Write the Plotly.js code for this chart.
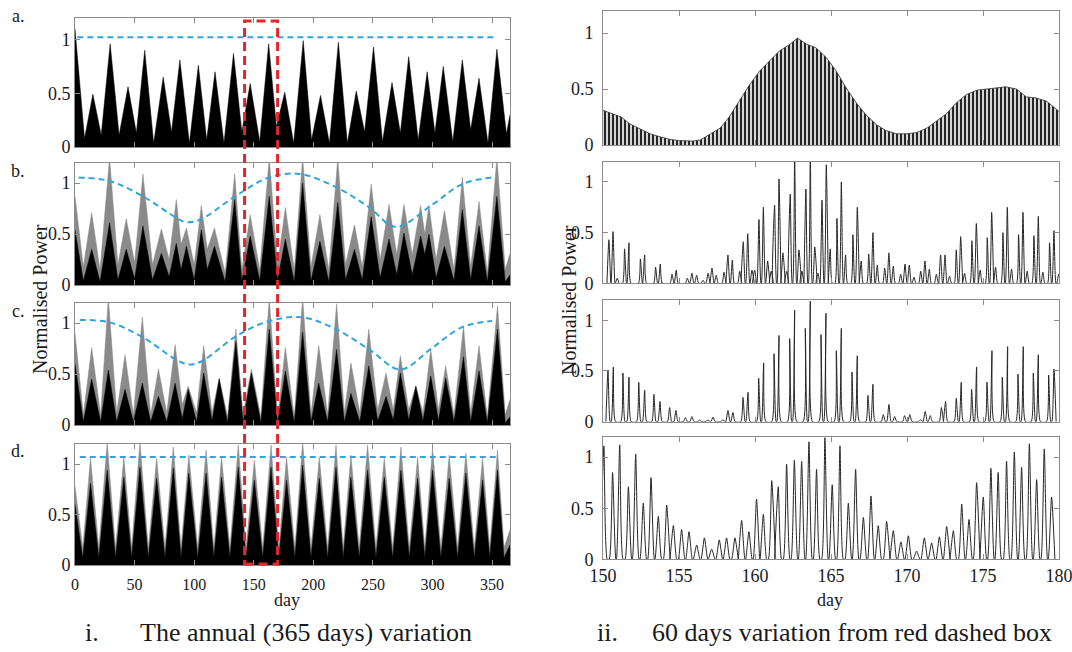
<!DOCTYPE html>
<html><head><meta charset="utf-8">
<script src="https://cdn.plot.ly/plotly-3.0.1.min.js"></script>
<style>html,body{margin:0;padding:0;background:#fff}#chart{width:1072px;height:652px}</style>
</head><body><div id="chart"></div>
<script>
// ---------- DATA ----------
// Left column, annual variation (day 0-365): peaks and troughs interleaved
const aDays = [0,8,15,22,29.5,37,44.5,51.5,58.5,66,74,81,88,96,103.5,110.5,117.5,125,133,140,147,155,162.5,169,176,183.5,191.5,198.5,206,213.5,221,228.5,236,243,250.5,258,266,273,280,288,295.5,302,309,317,325,332,339,346.5,354,362,365];
const aPower = [1.10,0.08,0.49,0.11,0.96,0.11,0.56,0.13,0.90,0.035,0.65,0.14,0.81,0.035,0.76,0.065,0.70,0.035,0.87,0.14,0.59,0.05,0.96,0.19,0.51,0.035,0.99,0.065,0.48,0.035,0.975,0.035,0.52,0.14,0.93,0.05,0.60,0.13,0.84,0.065,0.70,0.13,0.75,0.05,0.81,0.16,0.64,0.035,0.91,0.12,0.30];

const bDays = [0,7,14,21,29,36,43,50,57,65,72.5,79,85,89,93.5,100,106,111,117,126,134,140,147,155,163,170,176.5,184,191,198,205.5,213,220.5,227,234.5,241,248.5,256,263.5,270,276,283,290,293.5,297,303,310,318,325,332,339,346,354,361,365];
const bGrey = [0.87,0.18,0.71,0.15,1.25,0.2,0.65,0.22,1.09,0.2,0.55,0.25,0.84,0.4,0.56,0.2,0.78,0.35,0.56,0.12,1.09,0.15,0.69,0.15,1.25,0.2,0.76,0.15,1.25,0.18,0.69,0.15,1.25,0.2,0.59,0.18,0.99,0.25,0.79,0.3,0.79,0.3,0.78,0.5,0.78,0.25,0.73,0.15,1.06,0.18,0.82,0.12,1.25,0.15,0.31];
const bBlack = [0.54,0.04,0.35,0.03,0.61,0.05,0.35,0.06,0.58,0.05,0.31,0.08,0.41,0.15,0.38,0.05,0.54,0.15,0.38,0.03,0.84,0.04,0.48,0.04,0.87,0.05,0.45,0.03,1.0,0.04,0.43,0.03,0.81,0.05,0.35,0.05,0.67,0.07,0.45,0.1,0.51,0.1,0.48,0.3,0.5,0.07,0.38,0.04,0.74,0.05,0.58,0.03,0.87,0.03,0.1];

const cDays = [0,7,14,21.5,28,35,42,49,56.5,63.5,70,77,84,90,95,102,108,115,121,128,135,141,148,156,163,170,176.5,184,191,198,204.5,212,219.5,226,231.5,239,246.5,254,261,267,273,280,286,292,298.5,305,311,318,326,332,339,346,354.5,361,365];
const cGrey = [0.9,0.1,0.76,0.1,1.25,0.12,0.69,0.1,1.06,0.1,0.55,0.12,0.79,0.2,0.38,0.12,0.78,0.12,0.46,0.08,0.94,0.1,0.55,0.08,1.25,0.08,0.76,0.08,1.25,0.1,0.78,0.1,1.19,0.12,0.61,0.12,0.94,0.15,0.51,0.15,0.68,0.15,0.38,0.12,0.74,0.15,0.58,0.1,0.97,0.12,0.78,0.08,1.17,0.1,0.25];
const cBlack = [0.6,0.03,0.45,0.03,0.54,0.03,0.35,0.03,0.41,0.03,0.28,0.03,0.41,0.06,0.35,0.03,0.51,0.04,0.45,0.02,0.82,0.03,0.51,0.02,0.94,0.02,0.53,0.02,0.91,0.03,0.41,0.03,0.74,0.03,0.31,0.03,0.58,0.04,0.28,0.05,0.51,0.05,0.38,0.04,0.48,0.04,0.46,0.03,0.67,0.03,0.53,0.02,0.94,0.02,0.08];

const dDays = [0,6.5,13,20,27,34,41,47.5,54.5,61.5,68.5,75.5,82.5,89,95.5,103,110,116.5,123,130,137,143.5,150.5,157.5,164.5,171,177.5,184.5,191,198,205,212,219,225,231.5,238.5,245.5,252.5,259.5,266.5,273.5,280.5,287.5,293.5,300,307,314,321,328,335,342,348,354.5,360,365];
const dGrey = [0.78,0.17,1.06,0.17,1.22,0.17,1.07,0.17,1.22,0.17,1.06,0.17,1.17,0.17,1.09,0.17,1.14,0.17,1.07,0.17,1.19,0.17,1.04,0.17,1.19,0.17,1.07,0.17,1.22,0.17,1.07,0.17,1.19,0.17,1.09,0.17,1.19,0.17,1.06,0.17,1.17,0.17,1.07,0.17,1.16,0.17,1.09,0.17,1.11,0.17,1.06,0.17,1.14,0.17,0.35];
const dBlack = [0.6,0.07,0.81,0.07,0.94,0.07,0.87,0.07,0.97,0.07,0.86,0.07,0.96,0.07,0.91,0.07,0.91,0.07,0.87,0.07,0.97,0.07,0.84,0.07,0.97,0.07,0.84,0.07,0.99,0.07,0.86,0.07,0.97,0.07,0.87,0.07,0.94,0.07,0.87,0.07,0.94,0.07,0.86,0.07,0.94,0.07,0.86,0.07,0.91,0.07,0.84,0.07,0.94,0.07,0.2];

// Blue dashed reference curves
const blueADays = [2,352], blueA = [1.02,1.02];
const blueBDays = [3,29,57,85,93,105,133,163,188,219,247,269,300,325,350];
const blueB = [1.056,1.02,0.87,0.66,0.617,0.64,0.86,1.056,1.09,0.96,0.76,0.57,0.79,0.99,1.056];
const blueCDays = [4,29,57,85,96,107,135,163,191,219,247,273,300,325,350];
const blueC = [1.03,1.007,0.86,0.64,0.594,0.63,0.87,1.02,1.056,0.94,0.74,0.545,0.76,0.96,1.02];
const blueDDays = [4,353], blueD = [1.07,1.07];

// Red dashed box (days)
const boxDays = [142.3,170];

// Right column (day 150-180)
const env1Days = [150,150.65,151.2,151.75,152.4,153.1,153.7,154.4,155.0,155.9,156.4,157.0,157.7,158.3,159.0,159.65,160.3,161.0,161.6,162.3,162.8,163.4,164.0,164.7,165.35,166.0,166.7,167.3,168.0,168.6,169.3,169.95,170.6,171.3,171.9,172.6,173.2,173.9,174.6,175.2,175.9,176.5,177.2,177.85,178.5,179.2,180];
const env1 = [0.31,0.28,0.25,0.19,0.15,0.10,0.075,0.05,0.04,0.035,0.045,0.09,0.15,0.25,0.40,0.54,0.66,0.76,0.84,0.90,0.955,0.90,0.87,0.78,0.66,0.51,0.37,0.27,0.18,0.13,0.10,0.10,0.11,0.15,0.21,0.28,0.37,0.45,0.49,0.50,0.51,0.52,0.50,0.43,0.42,0.39,0.30];

const r2Days = [150.39,150.66,150.94,151.42,151.71,152.46,152.74,153.46,153.77,154.54,154.82,155.55,155.85,156.16,156.58,156.91,157.17,157.45,157.96,158.22,158.51,158.99,159.23,159.52,159.8,159.98,160.26,160.55,160.83,161.07,161.29,161.58,161.84,162.08,162.32,162.61,162.89,163.09,163.35,163.64,163.93,164.14,164.41,164.69,164.95,165.39,165.68,165.96,166.44,166.73,166.99,167.48,167.76,168.05,168.53,168.81,169.1,169.58,169.87,170.15,170.46,170.9,171.18,171.47,171.93,172.21,172.5,172.8,173.24,173.53,173.79,174.27,174.56,174.82,175.28,175.57,175.83,176.31,176.6,176.88,177.34,177.63,177.91,178.35,178.64,178.94,179.38,179.67,179.98];
const r2Peaks = [0.43,0.51,0.05,0.34,0.40,0.24,0.28,0.16,0.19,0.09,0.13,0.05,0.10,0.08,0.03,0.10,0.15,0.08,0.11,0.28,0.23,0.12,0.41,0.49,0.13,0.13,0.63,0.75,0.22,0.12,0.77,1.03,0.30,0.12,0.88,1.25,0.33,0.12,0.93,1.25,0.36,0.10,0.82,1.17,0.34,0.64,1.0,0.28,0.48,0.75,0.22,0.29,0.50,0.18,0.15,0.30,0.17,0.09,0.19,0.18,0.06,0.12,0.22,0.14,0.09,0.28,0.28,0.07,0.33,0.46,0.10,0.42,0.59,0.13,0.45,0.70,0.16,0.50,0.75,0.14,0.48,0.70,0.12,0.47,0.66,0.11,0.40,0.52,0.09];

const r3Days = [150.33,150.68,151.31,151.71,152.35,152.74,153.35,153.75,154.38,154.8,155.42,155.85,156.36,156.91,157.24,157.89,158.22,158.55,159.21,159.54,160.24,160.57,161.25,161.58,162.28,162.61,163.31,163.64,164.34,164.67,165.35,165.68,166.38,166.73,167.43,167.76,168.44,168.81,169.19,169.84,170.19,170.9,171.2,171.53,172.26,172.54,173.24,173.57,174.25,174.58,175.26,175.59,176.27,176.62,177.3,177.65,178.31,178.64,179.32,179.67];
const r3Peaks = [0.51,0.54,0.48,0.44,0.39,0.31,0.27,0.20,0.14,0.11,0.04,0.05,0.016,0.02,0.045,0.02,0.11,0.09,0.24,0.29,0.43,0.58,0.67,0.85,0.82,1.10,0.92,1.19,0.86,1.07,0.70,0.92,0.49,0.65,0.26,0.37,0.07,0.17,0.05,0.06,0.07,0.02,0.10,0.06,0.14,0.20,0.23,0.39,0.32,0.54,0.39,0.70,0.44,0.74,0.47,0.74,0.48,0.66,0.46,0.52];

const r4Days = [150.06,150.63,151.1,151.67,152.15,152.65,153.16,153.64,154.19,154.63,155.17,155.66,156.16,156.67,157.15,157.65,158.13,158.68,159.12,159.6,160.1,160.55,161.1,161.53,162.08,162.59,163.07,163.55,164.05,164.6,165.08,165.59,166.14,166.62,167.13,167.63,168.11,168.66,169.1,169.6,170.09,170.63,171.14,171.62,172.13,172.61,173.05,173.6,174.08,174.58,175.02,175.52,176.0,176.55,177.06,177.54,178.05,178.53,179.03,179.51];
const r4Peaks = [1.11,0.85,1.12,0.71,1.03,0.55,0.80,0.42,0.53,0.33,0.29,0.27,0.14,0.21,0.10,0.19,0.21,0.21,0.38,0.27,0.59,0.44,0.77,0.71,0.93,0.97,0.96,1.15,0.88,1.19,0.73,1.11,0.55,0.88,0.41,0.62,0.33,0.37,0.28,0.17,0.23,0.08,0.21,0.16,0.22,0.32,0.28,0.54,0.39,0.75,0.61,0.89,0.85,0.96,1.05,0.90,1.13,0.78,1.08,0.61];

// Text
const panelLabels = ['a.','b.','c.','d.'];
const yTickVals = [0,0.5,1], yTickText = ['0','0.5','1'];
const yTitle = 'Normalised Power';
const xTitle = 'day';
const captionL = ['i.','The annual (365 days) variation'];
const captionR = ['ii.','60 days variation from red dashed box'];

// ---------- PLOT ----------
const W = 1072, H = 652;
const px = v => v / W, py = v => 1 - v / H;
const SERIF = "'Liberation Serif', 'Times New Roman', serif";
const GREY = '#8a8a8a', BLUE = '#2ea6d9', RED = '#e3262b', AXC = '#8c8c8c';

// pixel frames [left, right, top, bottom]
const frames = [
  [75,510,18,147],[75,510,162.7,285],[75,510,302.7,425],[75,510,444,565],
  [603,1059,10.7,145],[603,1059,161.7,283.3],[603,1059,300,421.7],[603,1059,436.7,559.3]
];

function spikes(days, vals, w) {
  const x = [], y = [];
  days.forEach((d, i) => { x.push(d - w, d, d + w); y.push(0, vals[i], 0); });
  return {x, y};
}

const traces = [];
function fillT(n, x, y, color) {
  traces.push({type:'scatter', mode:'lines', x, y, xaxis:'x'+(n===1?'':n), yaxis:'y'+(n===1?'':n),
    fill:'tozeroy', fillcolor:color, line:{color:color, width:0.5}, hoverinfo:'skip'});
}
function blueT(n, x, y) {
  traces.push({type:'scatter', mode:'lines', x, y, xaxis:'x'+(n===1?'':n), yaxis:'y'+(n===1?'':n),
    line:{color:BLUE, width:2, dash:'6px,4px', shape:'spline', smoothing:1}, hoverinfo:'skip'});
}
function lineT(n, s, w) {
  traces.push({type:'scatter', mode:'lines', x:s.x, y:s.y, xaxis:'x'+n, yaxis:'y'+n,
    line:{color:'#262626', width:w, shape:'spline', smoothing:0.6}, hoverinfo:'skip'});
}

fillT(1, aDays, aPower, '#000');
blueT(1, blueADays, blueA);
fillT(2, bDays, bGrey, GREY);
fillT(2, bDays, bBlack, '#000');
blueT(2, blueBDays, blueB);
fillT(3, cDays, cGrey, GREY);
fillT(3, cDays, cBlack, '#000');
blueT(3, blueCDays, blueC);
fillT(4, dDays, dGrey, GREY);
fillT(4, dDays, dBlack, '#000');
blueT(4, blueDDays, blueD);

traces.push({type:'scatter', mode:'lines', x:env1Days, y:env1, xaxis:'x5', yaxis:'y5',
  fill:'tozeroy', fillcolor:'#d0d0d0',
  fillpattern:{shape:'|', size:4, solidity:0.45, fgcolor:'#111', bgcolor:'#d6d6d6', fillmode:'replace'},
  line:{color:'#333', width:0.8}, hoverinfo:'skip'});
lineT(6, spikes(r2Days, r2Peaks, 0.13), 1);
lineT(7, spikes(r3Days, r3Peaks, 0.14), 1);
lineT(8, spikes(r4Days, r4Peaks, 0.22), 1);

const layout = {
  width: W, height: H, margin:{l:0,r:0,t:0,b:0},
  paper_bgcolor:'#fff', plot_bgcolor:'#fff', showlegend:false,
  font:{family:SERIF, color:'#1a1a1a'},
  annotations:[], shapes:[]
};

frames.forEach((f, i) => {
  const n = i + 1, sfx = n === 1 ? '' : n;
  const left = i < 4;
  const bottom = (i === 3 || i === 7);
  layout['xaxis'+sfx] = {
    domain:[px(f[0]), px(f[1])], anchor:'y'+sfx,
    range: left ? [0,365] : [150,180], tick0: left ? 0 : 150, dtick: left ? 50 : 5,
    showline:true, linecolor:AXC, linewidth:1, mirror:'ticks', ticks:'inside', ticklen:5, tickcolor:AXC,
    showgrid:false, zeroline:false, showticklabels: bottom, ticklabeloverflow:'allow',
    ticklabelstandoff: left ? 5 : 0,
    tickfont:{family:SERIF, size: left ? 16 : 18, color:'#1a1a1a'}, fixedrange:true
  };
  layout['yaxis'+sfx] = {
    domain:[py(f[3]), py(f[2])], anchor:'x'+sfx, range:[0,1.2],
    tickvals:yTickVals, ticktext:yTickText,
    showline:true, linecolor:AXC, linewidth:1, mirror:'ticks', ticks:'inside', ticklen:5, tickcolor:AXC,
    showgrid:false, zeroline:false, ticklabelstandoff: left ? 0 : 5,
    tickfont:{family:SERIF, size:18, color:'#1a1a1a'}, fixedrange:true
  };
});

// panel letters
const letterY = [16, 171, 311, 451];
panelLabels.forEach((t, i) => layout.annotations.push({
  text:t, xref:'paper', yref:'paper', x:px(18), y:py(letterY[i]), xanchor:'center', yanchor:'middle',
  showarrow:false, font:{family:SERIF, size:18, color:'#1a1a1a'}
}));
// y titles
[[40,299],[569,300]].forEach(p => layout.annotations.push({
  text:yTitle, xref:'paper', yref:'paper', x:px(p[0]), y:py(p[1]), xanchor:'center', yanchor:'middle',
  textangle:-90, showarrow:false, font:{family:SERIF, size:20, color:'#1a1a1a'}
}));
// x titles
[[287,600],[830,600]].forEach(p => layout.annotations.push({
  text:xTitle, xref:'paper', yref:'paper', x:px(p[0]), y:py(p[1]), xanchor:'center', yanchor:'middle',
  showarrow:false, font:{family:SERIF, size:18, color:'#1a1a1a'}
}));
// captions
[[92,138,captionL],[607,650,captionR]].forEach(c => {
  layout.annotations.push({text:c[2][0], xref:'paper', yref:'paper', x:px(c[0]), y:py(632),
    xanchor:'center', yanchor:'middle', showarrow:false, font:{family:SERIF, size:26, color:'#1a1a1a'}});
  layout.annotations.push({text:c[2][1], xref:'paper', yref:'paper', x:px(c[1]), y:py(632),
    xanchor:'left', yanchor:'middle', showarrow:false, font:{family:SERIF, size:26, color:'#1a1a1a'}});
});

// red dashed box
layout.shapes.push({type:'rect', xref:'x', yref:'paper', x0:boxDays[0], x1:boxDays[1],
  y0:py(564), y1:py(21), line:{color:RED, width:3, dash:'9px,5px'}, fillcolor:'rgba(0,0,0,0)', layer:'above'});

Plotly.newPlot('chart', traces, layout, {staticPlot:true, displayModeBar:false});
</script></body></html>
